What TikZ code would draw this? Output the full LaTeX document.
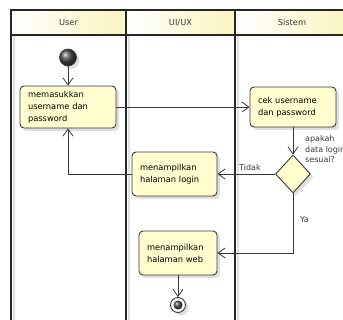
\documentclass[tikz,border=0pt]{standalone}
\usepackage{fontspec}
\setmainfont{DejaVu Sans}
\usetikzlibrary{arrows.meta,shapes.geometric,shadows}
\definecolor{nodefill}{HTML}{FEFECE}
\definecolor{ln}{HTML}{383838}
\definecolor{hdr}{HTML}{FAF5C0}
\newcommand{\fs}{\fontsize{8.3}{12}\selectfont}
\newcommand{\fl}{\fontsize{8}{10.8}\selectfont}
\tikzset{
  shd/.style={drop shadow={shadow xshift=3pt,shadow yshift=-3pt,fill=black!18,opacity=0.7}},
  act/.style={draw=ln, fill=nodefill, rounded corners=4pt, line width=0.9pt,
     align=left, font=\fs, inner xsep=8pt, inner ysep=2pt, shd},
  dec/.style={diamond, draw=ln, fill=nodefill, line width=0.9pt, inner sep=0pt,
     minimum width=35pt, minimum height=38pt, shd},
  flow/.style={draw=ln, line width=0.8pt, -{Straight Barb[length=7pt,width=10pt,line width=0.8pt]}},
  lane/.style={draw=black!85, line width=1.5pt},
  laneshd/.style={draw=black!12, line width=1.5pt},
  hcell/.style={draw=black!85, line width=1.2pt, left color=white, right color=hdr},
  lbl/.style={font=\fl, align=left, inner sep=0pt, text=ln}
}
\begin{document}
\begin{tikzpicture}[x=1pt,y=-1pt]
\useasboundingbox (0,0) rectangle (343,320);
\clip (0,0) rectangle (343,320);
% lanes
\foreach \x in {11,126,235,349} {
  \draw[laneshd] (\x+3,35) -- (\x+3,320);
}
\path[hcell] (11,10) rectangle (126,35);
\path[hcell] (126,10) rectangle (235,35);
\path[hcell] (235,10) rectangle (349,35);
\foreach \x in {11,126,235,349} {
  \draw[lane] (\x,10) -- (\x,320);
}
\node[font=\fs, text=ln] (hu) at (68.5,22.5) {User};
\node[font=\fs, text=ln] (hx) at (180.5,22.5) {UI/UX};
\node[font=\fs, text=ln] (hs) at (292,22.5) {Sistem};
% nodes
\node[circle, minimum size=17pt, inner sep=0pt, draw=ln, line width=0.6pt, ball color=black!70, shd] (start) at (68,57.5) {};
\node[act, text width=80pt, minimum height=42pt] (n1) at (68,107) {memasukkan\\username dan\\password};
\node[act, text width=70pt, minimum height=40pt] (n2) at (293,107) {cek username\\dan password};
\node[dec] (d) at (293,174) {};
\node[act, text width=69pt, minimum height=44pt] (n3) at (174.5,174) {menampilkan\\halaman login};
\node[act, text width=62pt, minimum height=44pt] (n4) at (178,253) {menampilkan\\halaman web};
\node[circle, minimum size=15pt, inner sep=0pt, draw=ln, line width=0.9pt, fill=white, shd] (end) at (178,305) {};
\node[circle, minimum size=9pt, inner sep=0pt, ball color=black!70] (endin) at (end.center) {};
% labels
\node[lbl, anchor=north west] (q) at (305,135) {apakah\\data login\\sesuai?};
\node[lbl, anchor=south west] (tidak) at (239,171) {Tidak};
\node[lbl, anchor=west] (ya) at (300,220) {Ya};
% flows
\draw[flow] (start) -- (n1);
\draw[flow] (n1) -- (n2);
\draw[flow] (n2) -- (d);
\draw[flow] (d.west) -- (n3.east);
\draw[flow] (n3.west) -| (n1.south);
\draw[flow] (d.south) |- (n4.east);
\draw[flow] (n4) -- (end);
\end{tikzpicture}
\end{document}
